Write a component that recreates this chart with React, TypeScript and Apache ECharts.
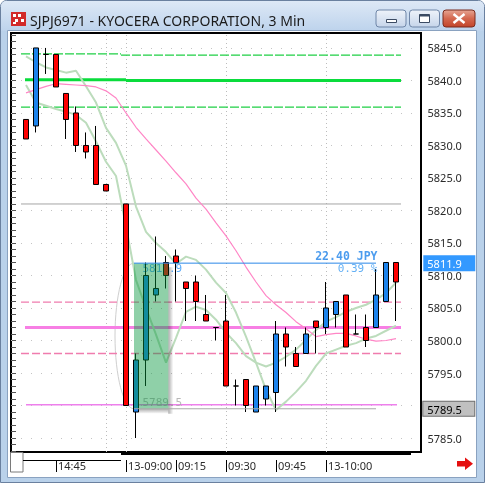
import React, { useEffect, useRef } from 'react';
import * as echarts from 'echarts';

// 3-minute bars (bar slots; '' = empty slot between sessions)
const times = [
  '14:33', '14:36', '14:39', '14:42', '14:45', '14:48', '14:51', '14:54', '14:57', '15:00', '',
  '13-09:00', '09:03', '09:06', '09:09', '09:12', '09:15', '09:18', '09:21', '09:24', '09:27',
  '09:30', '09:33', '09:36', '09:39', '09:42', '09:45', '09:48', '09:51', '09:54', '09:57',
  '13-10:00', '10:03', '10:06', '10:09', '10:12', '10:15', '10:18', '10:21', '10:24', '10:27',
];
const shownTimes = ['14:45', '13-09:00', '09:15', '09:30', '09:45', '13-10:00'];

const opens = [null, 5834, 5833, 5844, 5844, 5838, 5835, 5830, 5830, 5824, null, 5821, 5789, 5797, 5807, 5812, 5813, 5809, 5809, 5804, 5802, 5803, 5793, 5794, 5789, 5791, 5792, 5801, 5798, 5798, 5803, 5802, 5804, 5807, 5801, 5802, 5802, 5806, 5812, null, null];
const closes = [null, 5831, 5845, 5844, 5839, 5834, 5830, 5829, 5824, 5823, null, 5790, 5797, 5810, 5808, 5810, 5812, 5808, 5806, 5803, 5802, 5793, 5793, 5790, 5793, 5793, 5801, 5799, 5796, 5801, 5802, 5805, 5806, 5799, 5801, 5800, 5807, 5812, 5809, null, null];
const lows = [null, 5831, 5832, 5841, 5839, 5831, 5829, 5828, 5824, 5823, null, 5790, 5785, 5793, 5806, 5808, 5806, 5803, 5803, 5803, 5800, 5793, 5790, 5789, 5789, 5790, 5789, 5796, 5796, 5798, 5798, 5801, 5802, 5799, 5801, 5799, 5802, 5806, 5803, null, null];
const highs = [null, 5834, 5845, 5845, 5844, 5838, 5836, 5832, 5833, 5824, null, 5821, 5798, 5812, 5816, 5813, 5814, 5809, 5810, 5807, 5802, 5807, 5794, 5794, 5793, 5793, 5803, 5802, 5799, 5802, 5803, 5809, 5806, 5807, 5804, 5804, 5811, 5812, 5812, null, null];

const pinkAverage = [null, 5838.1, 5838.6, 5839.1, 5839.5, 5839.4, 5839.3, 5839.2, 5839.0, 5838.4, 5837.3, 5835.0, 5832.8, 5831.0, 5829.3, 5827.6, 5825.8, 5824.1, 5821.9, 5820.2, 5818.1, 5816.1, 5813.8, 5811.3, 5809.0, 5806.9, 5805.5, 5804.3, 5802.9, 5801.8, 5800.6, 5800.9, 5801.1, 5801.1, 5800.7, 5800.2, 5799.9, 5800.0, 5800.3, null, null];
const greenAverageA = [null, 5843.7, 5842.8, 5842.0, 5841.6, 5841.2, 5841.5, 5839.1, 5836.6, 5832.7, 5830.4, 5826.9, 5820.6, 5816.7, 5815.0, 5813.6, 5811.8, 5812.9, 5812.4, 5810.9, 5808.9, 5807.3, 5804.3, 5800.6, 5796.6, 5792.4, 5789.3, 5790.6, 5792.1, 5793.8, 5796.1, 5798.0, 5798.6, 5799.2, 5799.6, 5800.3, 5800.7, 5801.5, 5802.3, null, null];
const greenAverageB = [null, 5839.3, 5836.6, 5836.1, 5835.6, 5835.2, 5834.7, 5833.5, 5830.6, 5827.5, 5825.3, 5817.6, 5809.3, 5805.0, 5800.9, 5796.6, 5800.4, 5804.4, 5805.2, 5804.7, 5803.2, 5801.2, 5799.6, 5797.6, 5796.6, 5796.0, 5796.6, 5797.5, 5798.6, 5800.1, 5801.6, 5802.9, 5803.6, 5804.4, 5805.0, 5805.5, 5806.3, 5807.3, 5808.9, null, null];

// horizontal levels: [price, fromBar, toBar]
const greenDashedLevels = [[5844.1, 0.5, 10.5], [5843.9, 10.5, 38.5], [5835.9, 0.5, 38.5]];
const greenSolidLevels = [[5840.1, 0.9, 11], [5840.0, 11, 38.5]];
const grayLevels = [[5821.0, 0.5, 38.5]];
const pinkDashedLevels = [[5805.9, 0.5, 38.5], [5798.0, 0.5, 38.5]];
const magentaLevels = [[5802.0, 0.9, 38.5]];
const violetLevels = [[5790.1, 1, 38.1]];

// price measurement drawing
const measureFrom = 5789.5;
const measureTo = 5811.9;
const measureBars = [11.8, 15.23, 36];

const priceLabels = [5785, 5790, 5795, 5800, 5805, 5810, 5815, 5820, 5825, 5830, 5835, 5840, 5845];
const priceMin = 5782.85;
const priceMax = 5847.3;

const FONT = '"Noto Sans", sans-serif';
const MONO = '"DejaVu Sans Mono", monospace';

export default function App() {
  const ref = useRef<HTMLDivElement>(null);

  useEffect(() => {
    const el = ref.current;
    if (!el) return;
    const chart = echarts.init(el, null, { renderer: 'svg' });

    const minorTicks: number[] = [];
    for (let p = Math.ceil(priceMin); p <= priceMax; p++) minorTicks.push(p);

    const candleRows = times
      .map((_, i) => (opens[i] == null ? null : [i, opens[i], closes[i], lows[i], highs[i]]))
      .filter((r) => r !== null);

    const gridBars = times
      .map((t, i) => (/:(00|30)$/.test(t) ? i : -1))
      .filter((i) => i >= 0);

    const diff = measureTo - measureFrom;
    const pct = (diff / measureFrom) * 100;

    const levelSeries = (levels: number[][], lineStyle: any) =>
      levels.map(([p, a, b]) => ({
        type: 'line',
        xAxisIndex: 1,
        yAxisIndex: 0,
        data: [[a, p], [b, p]],
        symbol: 'none',
        silent: true,
        z: 2,
        lineStyle,
      }));

    const maSeries = (data: (number | null)[], color: string, width: number) => ({
      type: 'line',
      xAxisIndex: 0,
      yAxisIndex: 0,
      data,
      symbol: 'none',
      silent: true,
      z: 2,
      lineStyle: { color, width },
    });

    const isMeasureHi = (v: number) => Math.abs(v - measureTo) < 0.01;

    const option: any = {
      animation: false,
      textStyle: { fontFamily: FONT },
      grid: {
        left: 11,
        top: 33,
        width: 410,
        height: 419,
        show: true,
        borderColor: '#000',
        borderWidth: 2,
        backgroundColor: '#fff',
      },
      xAxis: [
        {
          type: 'category',
          data: times,
          boundaryGap: true,
          offset: 8,
          axisLine: { show: false },
          axisTick: {
            show: true,
            alignWithLabel: true,
            length: 12,
            interval: (i: number) => shownTimes.includes(times[i]),
            lineStyle: { color: '#000' },
          },
          axisLabel: {
            interval: (i: number) => shownTimes.includes(times[i]),
            align: 'left',
            verticalAlign: 'middle',
            margin: 5,
            padding: [0, 0, 0, 2],
            fontSize: 11,
            color: '#2b2b2b',
            fontFamily: FONT,
          },
          splitLine: { show: false },
        },
        { type: 'value', min: -0.5, max: 40.5, show: false },
      ],
      yAxis: [
        {
          type: 'value',
          position: 'right',
          min: priceMin,
          max: priceMax,
          axisLine: { show: false },
          axisTick: {
            show: true,
            inside: true,
            length: 3,
            customValues: minorTicks,
            lineStyle: { color: '#555' },
          },
          axisLabel: {
            customValues: priceLabels,
            formatter: (v: number) => v.toFixed(1),
            margin: 6.5,
            fontSize: 11,
            color: '#2b2b2b',
            fontFamily: FONT,
          },
          splitLine: { show: false },
        },
        {
          type: 'value',
          position: 'left',
          min: priceMin,
          max: priceMax,
          axisLine: { show: false },
          axisTick: {
            show: true,
            inside: true,
            length: 3,
            customValues: minorTicks,
            lineStyle: { color: '#555' },
          },
          axisLabel: { show: false },
          splitLine: { show: false },
        },
        {
          type: 'value',
          position: 'right',
          min: priceMin,
          max: priceMax,
          axisLine: { show: false },
          axisTick: { show: false },
          splitLine: { show: false },
          axisLabel: {
            customValues: [measureTo, measureFrom],
            margin: 2.3,
            formatter: (v: number) => (isMeasureHi(v) ? `{hi|${v.toFixed(1)}}` : `{lo|${v.toFixed(1)}}`),
            rich: {
              hi: {
                backgroundColor: '#3399ff',
                color: '#fff',
                padding: [3, 5, 2, 4],
                width: 43,
                lineHeight: 12,
                fontSize: 11,
                fontFamily: FONT,
              },
              lo: {
                backgroundColor: '#c0c0c0',
                borderColor: '#6e6e6e',
                borderWidth: 1,
                color: '#000',
                padding: [2, 5, 1, 4],
                width: 42,
                lineHeight: 12,
                fontSize: 11,
                fontFamily: FONT,
              },
            },
          },
        },
      ],
      series: [
        // dotted grid
        {
          type: 'line',
          xAxisIndex: 1,
          yAxisIndex: 0,
          data: [[0.5, 5821.0], [0.5, 5821.0]],
          symbol: 'none',
          silent: true,
          lineStyle: { width: 0 },
          z: 1,
          markLine: {
            silent: true,
            symbol: 'none',
            z: 1,
            label: { show: false },
            lineStyle: { color: '#bcbcbc', width: 1, type: [1, 3] },
            data: [
              ...gridBars.map((b) => ({ xAxis: b })),
              ...priceLabels.map((p) => ({ yAxis: p, lineStyle: { color: '#c4c4c4', type: [1, 9] } })),
            ],
          },
        },
        ...levelSeries(greenDashedLevels, { color: '#1fcf45', width: 1.3, type: [9, 2] }),
        ...levelSeries(greenSolidLevels, { color: '#0adc3c', width: 3 }),
        ...levelSeries(grayLevels, { color: '#a4a4a4', width: 1 }),
        ...levelSeries(pinkDashedLevels, { color: '#f07cae', width: 1.3, type: [8, 3] }),
        ...levelSeries(magentaLevels, { color: '#f77fe4', width: 3 }),
        ...levelSeries(violetLevels, { color: '#ee80ec', width: 1.5 }),
        maSeries(greenAverageA, '#bcdcbc', 2),
        maSeries(greenAverageB, '#bcdcbc', 2),
        maSeries(pinkAverage, '#ff86c6', 1.2),
        // measure values inside the box
        {
          type: 'scatter',
          xAxisIndex: 1,
          yAxisIndex: 0,
          symbolSize: 1,
          itemStyle: { color: 'rgba(0,0,0,0)' },
          silent: true,
          z: 2,
          data: [
            {
              value: [measureBars[0], measureTo],
              label: {
                show: true,
                formatter: measureTo.toFixed(1),
                position: [9, 6],
                align: 'left',
                verticalAlign: 'middle',
                color: '#2f95f7',
                fontFamily: MONO,
                fontSize: 11,
                lineHeight: 11,
              },
            },
            {
              value: [measureBars[0], measureFrom],
              label: {
                show: true,
                formatter: measureFrom.toFixed(1),
                position: [9, -6],
                align: 'left',
                verticalAlign: 'middle',
                color: '#a6a6a6',
                fontFamily: MONO,
                fontSize: 11,
                lineHeight: 11,
              },
            },
          ],
        },
        {
          type: 'candlestick',
          xAxisIndex: 0,
          yAxisIndex: 0,
          data: candleRows,
          encode: { x: 0, y: [1, 2, 3, 4] },
          barWidth: 5,
          silent: true,
          z: 3,
          itemStyle: {
            color: '#1c83ec',
            color0: '#ff0000',
            borderColor: '#000',
            borderColor0: '#000',
            borderColorDoji: '#000',
            borderWidth: 1,
          },
        },
        // measurement lines and shaded box
        {
          type: 'line',
          xAxisIndex: 1,
          yAxisIndex: 0,
          data: [[measureBars[0], measureTo], [measureBars[2], measureTo]],
          symbol: 'none',
          silent: true,
          z: 4,
          lineStyle: { color: '#2b87e8', width: 1 },
          markArea: {
            silent: true,
            z: 4,
            itemStyle: { color: 'rgba(6,151,62,0.45)' },
            data: [[{ coord: [measureBars[0], measureTo] }, { coord: [measureBars[1], measureFrom] }]],
          },
        },
        {
          type: 'line',
          xAxisIndex: 1,
          yAxisIndex: 0,
          data: [[measureBars[0], measureFrom], [measureBars[2], measureFrom]],
          symbol: 'none',
          silent: true,
          z: 4,
          lineStyle: { color: '#a8a8a8', width: 1 },
        },
        {
          type: 'scatter',
          xAxisIndex: 1,
          yAxisIndex: 0,
          symbolSize: 1,
          itemStyle: { color: 'rgba(0,0,0,0)' },
          silent: true,
          z: 5,
          data: [
            {
              value: [measureBars[2], measureTo],
              label: {
                show: true,
                formatter: `${diff.toFixed(2)} JPY`,
                position: [2, -6.8],
                align: 'right',
                verticalAlign: 'middle',
                color: '#1f83ea',
                fontWeight: 'bold',
                fontFamily: MONO,
                fontSize: 11.5,
                lineHeight: 11,
              },
            },
            {
              value: [measureBars[2], measureTo],
              label: {
                show: true,
                formatter: `${pct.toFixed(2)} %`,
                position: [2, 5.4],
                align: 'right',
                verticalAlign: 'middle',
                color: '#3c9cf2',
                fontFamily: MONO,
                fontSize: 11,
                lineHeight: 10,
              },
            },
          ],
        },
      ],
      graphic: [
        // window frame
        {
          type: 'rect',
          z: -20,
          shape: { x: 0.5, y: 0.5, width: 484, height: 482, r: [6, 6, 0, 0] },
          style: { fill: '#b9d1ea', stroke: '#6a809f', lineWidth: 1 },
        },
        {
          type: 'rect',
          z: -19,
          shape: { x: 1, y: 1, width: 483, height: 30, r: [5, 5, 0, 0] },
          style: {
            fill: new echarts.graphic.LinearGradient(0, 0, 0, 1, [
              { offset: 0, color: '#dde8f6' },
              { offset: 1, color: '#bdd3ec' },
            ]),
          },
        },
        {
          type: 'rect',
          z: -18,
          shape: { x: 7.5, y: 30.5, width: 469, height: 447 },
          style: { fill: '#fff', stroke: '#8aa2c0', lineWidth: 1 },
        },
        // title icon
        {
          type: 'group',
          z: 10,
          children: [
            { type: 'rect', shape: { x: 11, y: 12, width: 15, height: 14 }, style: { fill: '#d22a2a' } },
            { type: 'rect', shape: { x: 13, y: 14, width: 3, height: 3 }, style: { fill: '#fff' } },
            { type: 'rect', shape: { x: 18, y: 14, width: 3, height: 3 }, style: { fill: '#fff' } },
            { type: 'rect', shape: { x: 15, y: 19, width: 3, height: 3 }, style: { fill: '#fff' } },
            { type: 'rect', shape: { x: 21, y: 19, width: 3, height: 3 }, style: { fill: '#fff' } },
            { type: 'rect', shape: { x: 13, y: 22, width: 3, height: 2 }, style: { fill: '#fff' } },
          ],
        },
        {
          type: 'text',
          z: 10,
          style: {
            x: 30,
            y: 20.5,
            text: 'SJPJ6971 - KYOCERA CORPORATION, 3 Min',
            fill: '#1b1b1b',
            font: `14px ${FONT}`,
            verticalAlign: 'middle',
          },
        },
        // caption buttons
        {
          type: 'rect',
          z: 10,
          shape: { x: 376, y: 10, width: 30, height: 17, r: 3 },
          style: {
            fill: new echarts.graphic.LinearGradient(0, 0, 0, 1, [
              { offset: 0, color: '#eef3fa' },
              { offset: 1, color: '#c6d5ea' },
            ]),
            stroke: '#6f86a8',
          },
        },
        { type: 'rect', z: 11, shape: { x: 386.5, y: 19.5, width: 10, height: 3 }, style: { fill: '#fff', stroke: '#3b4b63' } },
        {
          type: 'rect',
          z: 10,
          shape: { x: 409.5, y: 10, width: 30, height: 17, r: 3 },
          style: {
            fill: new echarts.graphic.LinearGradient(0, 0, 0, 1, [
              { offset: 0, color: '#eef3fa' },
              { offset: 1, color: '#c6d5ea' },
            ]),
            stroke: '#6f86a8',
          },
        },
        { type: 'rect', z: 11, shape: { x: 419.5, y: 14.5, width: 10, height: 8 }, style: { fill: '#fff', stroke: '#3b4b63' } },
        { type: 'rect', z: 11, shape: { x: 419.5, y: 14.5, width: 10, height: 2 }, style: { fill: '#3b4b63' } },
        {
          type: 'rect',
          z: 10,
          shape: { x: 443, y: 10, width: 32, height: 17, r: 3 },
          style: {
            fill: new echarts.graphic.LinearGradient(0, 0, 0, 1, [
              { offset: 0, color: '#e6a593' },
              { offset: 0.5, color: '#d4684f' },
              { offset: 1, color: '#c2442a' },
            ]),
            stroke: '#7b2b1c',
          },
        },
        { type: 'line', z: 11, shape: { x1: 453.5, y1: 14, x2: 464.5, y2: 23 }, style: { stroke: '#fff', lineWidth: 2.4 } },
        { type: 'line', z: 11, shape: { x1: 464.5, y1: 14, x2: 453.5, y2: 23 }, style: { stroke: '#fff', lineWidth: 2.4 } },
        // time-scale strip
        { type: 'rect', z: 10, shape: { x: 10.5, y: 452.5, width: 12.5, height: 19.5 }, style: { fill: '#fff', stroke: '#7a7a7a' } },
        { type: 'line', z: 10, shape: { x1: 23, y1: 460.5, x2: 121, y2: 460.5 }, style: { stroke: '#000', lineWidth: 1 } },
        { type: 'rect', z: 10, shape: { x: 121, y: 452, width: 290, height: 3 }, style: { fill: '#000' } },
        {
          type: 'polygon',
          z: 10,
          shape: {
            points: [
              [457, 461], [465, 461], [465, 457.5], [473, 463.7], [465, 470], [465, 466.5], [457, 466.5],
            ],
          },
          style: { fill: '#e51010' },
        },
      ],
    };

    chart.setOption(option);

    // ellipse outline against the box's left side, and the box's drop shadow
    const finder = { xAxisIndex: 1, yAxisIndex: 0 };
    const topLeft = chart.convertToPixel(finder, [measureBars[0], measureTo]) as number[];
    const bottomRight = chart.convertToPixel(finder, [measureBars[1], measureFrom]) as number[];
    const cx = topLeft[0];
    const top = topLeft[1];
    const bottom = bottomRight[1];
    const right = bottomRight[0];
    const cy = (top + bottom) / 2;
    const ry = (bottom - top) / 2;
    const rx = 19;
    const k = 0.5523;
    const sh = 5;
    chart.setOption({
      graphic: [
        ...option.graphic,
        {
          type: 'bezierCurve',
          z: 1,
          shape: { x1: cx, y1: top, cpx1: cx - rx * k, cpy1: top, cpx2: cx - rx, cpy2: cy - ry * k, x2: cx - rx, y2: cy },
          style: { stroke: '#cfcfcf', lineWidth: 1, fill: null },
        },
        {
          type: 'bezierCurve',
          z: 1,
          shape: { x1: cx - rx, y1: cy, cpx1: cx - rx, cpy1: cy + ry * k, cpx2: cx - rx * k, cpy2: bottom, x2: cx, y2: bottom },
          style: { stroke: '#cfcfcf', lineWidth: 1, fill: null },
        },
        {
          type: 'rect',
          z: 4,
          shape: { x: right, y: top + 4, width: sh, height: bottom - top + sh - 4 },
          style: {
            fill: new echarts.graphic.LinearGradient(0, 0, 1, 0, [
              { offset: 0, color: 'rgba(0,0,0,0.32)' },
              { offset: 1, color: 'rgba(0,0,0,0)' },
            ]),
          },
        },
        {
          type: 'rect',
          z: 4,
          shape: { x: cx + 4, y: bottom, width: right - cx - 4, height: sh },
          style: {
            fill: new echarts.graphic.LinearGradient(0, 0, 0, 1, [
              { offset: 0, color: 'rgba(0,0,0,0.32)' },
              { offset: 1, color: 'rgba(0,0,0,0)' },
            ]),
          },
        },
      ],
    });

    return () => chart.dispose();
  }, []);

  return <div ref={ref} style={{ position: 'fixed', left: 0, top: 0, width: 485, height: 483 }} />;
}
